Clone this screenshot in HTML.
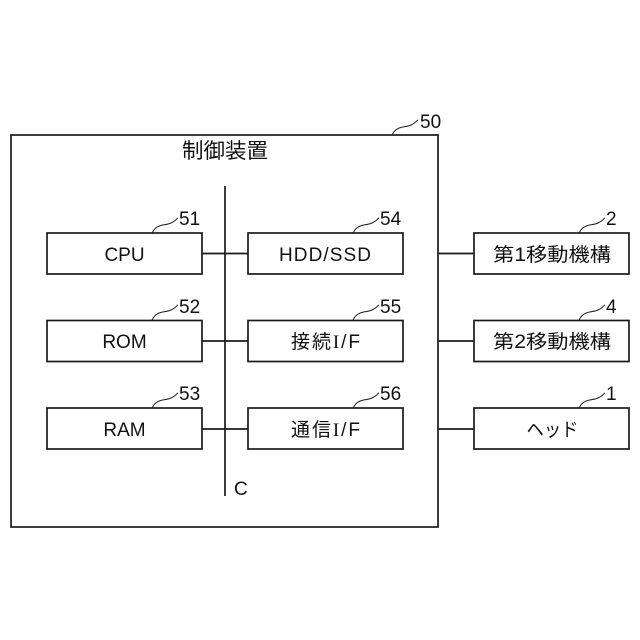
<!DOCTYPE html>
<html><head><meta charset="utf-8"><style>
html,body{margin:0;padding:0;background:#fff}
svg{display:block}
text{font-family:"Liberation Sans","Noto Sans CJK JP",sans-serif;fill:#111;font-size:19px}
.m{text-anchor:middle}
.b{fill:#fff;stroke:#1a1a1a;stroke-width:1.7}
.l{stroke:#1a1a1a;stroke-width:1.7;fill:none}
.c{stroke:#222;stroke-width:1;fill:none}
</style></head><body>
<svg width="640" height="640" viewBox="0 0 640 640" xmlns="http://www.w3.org/2000/svg">
<rect class="b" x="11" y="135" width="427" height="392"/>
<path class="l" d="M225 186V496M202 253.500H248M202 341H248M202 429H248M438 253.500H474M438 341H474M438 429H474"/>
<rect class="b" x="47" y="233" width="155" height="41"/>
<rect class="b" x="47" y="320.500" width="155" height="41"/>
<rect class="b" x="47" y="408" width="155" height="41"/>
<rect class="b" x="248" y="233" width="155" height="41"/>
<rect class="b" x="248" y="320.500" width="155" height="41"/>
<rect class="b" x="248" y="408" width="155" height="41"/>
<rect class="b" x="474" y="233" width="155" height="41"/>
<rect class="b" x="474" y="320.500" width="155" height="41"/>
<rect class="b" x="474" y="408" width="155" height="41"/>
<path class="c" d="M392 135C397 125 405 128 411 125S416 121 418 120"/>
<path class="c" d="M152 233C157 223 165 226 171 223S176 219 178 218"/>
<path class="c" d="M152 320C157 310 165 313 171 310S176 306 178 305"/>
<path class="c" d="M152 408C157 398 165 401 171 398S176 394 178 393"/>
<path class="c" d="M353 233C358 223 366 226 372 223S377 219 379 218"/>
<path class="c" d="M353 320C358 310 366 313 372 310S377 306 379 305"/>
<path class="c" d="M353 408C358 398 366 401 372 398S377 394 379 393"/>
<path class="c" d="M579 233C584 223 592 226 598 223S603 219 605 218"/>
<path class="c" d="M579 320C584 310 592 313 598 310S603 306 605 305"/>
<path class="c" d="M579 408C584 398 592 401 598 398S603 394 605 393"/>
<text class="m" x="225" y="158" textLength="86" lengthAdjust="spacingAndGlyphs" style="font-size:21px">制御装置</text>
<text x="420" y="128">50</text>
<text x="179" y="225">51</text>
<text x="179" y="313">52</text>
<text x="179" y="400">53</text>
<text x="380" y="225">54</text>
<text x="380" y="313">55</text>
<text x="380" y="400">56</text>
<text x="606" y="225">2</text>
<text x="606" y="313">4</text>
<text x="606" y="400">1</text>
<text x="234" y="495">C</text>
<text class="m" x="124.500" y="261">CPU</text>
<text class="m" x="124.500" y="348">ROM</text>
<text class="m" x="124.500" y="436">RAM</text>
<text class="m" x="325" y="261" textLength="92" lengthAdjust="spacing">HDD/SSD</text>
<text x="291" y="348" textLength="69" lengthAdjust="spacing">接続<tspan style="font-family:'Liberation Serif',serif">I</tspan>/F</text>
<text x="291" y="436" textLength="69" lengthAdjust="spacing">通信<tspan style="font-family:'Liberation Serif',serif">I</tspan>/F</text>
<text class="m" x="552" y="261" textLength="118" lengthAdjust="spacingAndGlyphs">第1移動機構</text>
<text class="m" x="552" y="348" textLength="118" lengthAdjust="spacingAndGlyphs">第2移動機構</text>
<text class="m" x="552.500" y="436" textLength="52" lengthAdjust="spacingAndGlyphs">ヘッド</text>
</svg>
</body></html>
